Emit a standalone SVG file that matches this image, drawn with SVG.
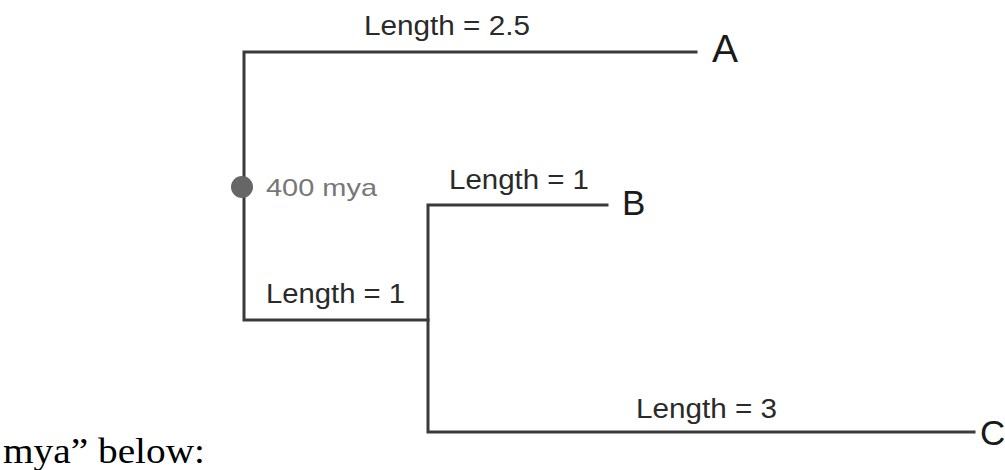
<svg xmlns="http://www.w3.org/2000/svg" width="1005" height="470" viewBox="0 0 1005 470">
  <style>
    .branch { stroke: #3a3a3a; stroke-width: 3; fill: none; stroke-linecap: square; }
    .len { font-family: "Liberation Sans", Arial, sans-serif; font-size: 27px; fill: #2a2a2a; }
    .leaf { font-family: "Liberation Sans", Arial, sans-serif; font-size: 35px; fill: #1a1a1a; }
    .age { font-family: "Liberation Sans", Arial, sans-serif; font-size: 24px; fill: #777777; }
    .body { font-family: "Liberation Serif", "Times New Roman", serif; font-size: 36px; fill: #000000; }
  </style>
  <rect width="1005" height="470" fill="#ffffff"/>

  <!-- tree branches -->
  <g id="connectors">
    <path class="branch" d="M696,52 H244 V320 H428"/>
    <path class="branch" d="M607,205 H428 V432 H974"/>
  </g>

  <g id="root-node">
    <circle cx="242" cy="187" r="11" fill="#666666"/>
    <text class="age" x="266" y="196" textLength="111" lengthAdjust="spacingAndGlyphs">400 mya</text>
  </g>

  <g id="label-a-branch"><text class="len" x="364" y="35" textLength="166" lengthAdjust="spacingAndGlyphs">Length = 2.5</text></g>
  <g id="label-b-branch"><text class="len" x="449" y="189" textLength="140" lengthAdjust="spacingAndGlyphs">Length = 1</text></g>
  <g id="label-inner-branch"><text class="len" x="266" y="303" textLength="139" lengthAdjust="spacingAndGlyphs">Length = 1</text></g>
  <g id="label-c-branch"><text class="len" x="636" y="418" textLength="141" lengthAdjust="spacingAndGlyphs">Length = 3</text></g>

  <g id="leaf-a"><text class="leaf" x="712" y="62" style="font-size:39px">A</text></g>
  <g id="leaf-b"><text class="leaf" x="622" y="215">B</text></g>
  <g id="leaf-c"><text class="leaf" x="980" y="445">C</text></g>

  <text class="body" x="3" y="463" textLength="202" lengthAdjust="spacingAndGlyphs">mya” below:</text>
</svg>
